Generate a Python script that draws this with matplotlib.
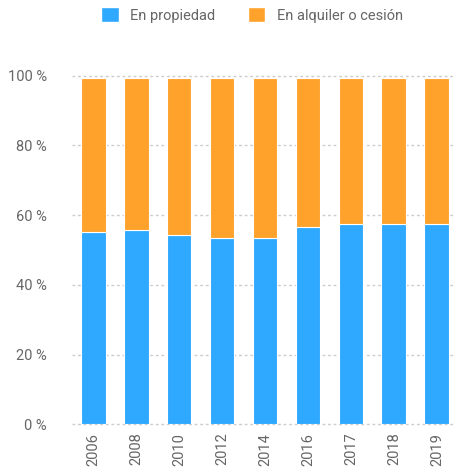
import matplotlib.pyplot as plt
from matplotlib.patches import Patch

plt.rcParams['font.family'] = ['Roboto', 'DejaVu Sans']

years = ['2006', '2008', '2010', '2012', '2014', '2016', '2017', '2018', '2019']
propiedad = [55.2, 55.8, 54.4, 53.5, 53.5, 56.6, 57.4, 57.4, 57.4]
alquiler = [44.1, 43.5, 44.9, 45.8, 45.8, 42.7, 41.9, 41.9, 41.9]
yticks = [0, 20, 40, 60, 80, 100]

blue = '#2ea9ff'
orange = '#ffa22b'
gray = '#666666'

fig = plt.figure(figsize=(4.55, 4.70), dpi=100)
ax = fig.add_axes([72 / 455, 45.7 / 470, 383 / 455, 348.6 / 470])

x = range(len(years))
ax.bar(x, propiedad, width=0.58, color=blue, edgecolor='white', linewidth=0.8, zorder=3)
ax.bar(x, alquiler, width=0.58, bottom=propiedad, color=orange, edgecolor='white',
       linewidth=0.8, zorder=3)

ax.set_xlim(-0.49, 8.42)
ax.set_ylim(0, 100)
ax.set_yticks(yticks)
ax.set_yticklabels([f'{v} %' for v in yticks])
ax.set_xticks(list(x))
ax.set_xticklabels(years, rotation=90)

ax.grid(axis='y', color='#cccccc', linestyle=(0, (2, 2)), linewidth=1, zorder=0)
for gl in ax.get_ygridlines():
    gl.set_clip_on(False)
for s in ax.spines.values():
    s.set_visible(False)
ax.tick_params(axis='both', length=0, colors=gray, labelsize=10.5)
ax.tick_params(axis='y', pad=18)
ax.tick_params(axis='x', pad=6)

handles = [Patch(facecolor=blue, edgecolor='white', label='En propiedad'),
           Patch(facecolor=orange, edgecolor='white', label='En alquiler o cesión')]
fig.legend(handles=handles, loc='upper center', bbox_to_anchor=(252 / 455, 1.0),
           ncol=2, frameon=False, fontsize=10.5, labelcolor=gray,
           handlelength=1.2, handleheight=1.2, handletextpad=0.8, columnspacing=2.2,
           borderaxespad=0.1)

plt.savefig('out.png', dpi=100)
